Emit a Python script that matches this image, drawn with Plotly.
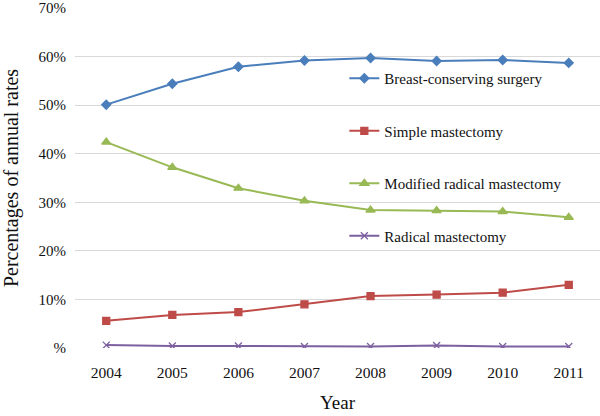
import plotly.graph_objects as go

years = ["2004", "2005", "2006", "2007", "2008", "2009", "2010", "2011"]
breast_conserving = [50.1, 54.4, 57.9, 59.2, 59.7, 59.1, 59.3, 58.7]
simple_mastectomy = [5.6, 6.8, 7.4, 9.0, 10.7, 11.0, 11.4, 13.0]
modified_radical = [42.4, 37.2, 32.9, 30.3, 28.4, 28.3, 28.1, 26.9]
radical_mastectomy = [0.6, 0.4, 0.4, 0.3, 0.3, 0.5, 0.3, 0.3]

y_ticks = [0, 10, 20, 30, 40, 50, 60, 70]
y_tick_text = ["%", "10%", "20%", "30%", "40%", "50%", "60%", "70%"]

series = [
    ("Breast-conserving surgery", breast_conserving, "#4a7ebb", "diamond", 7),
    ("Simple mastectomy", simple_mastectomy, "#be4b48", "square", 7),
    ("Modified radical mastectomy", modified_radical, "#98b954", "triangle-up", 8),
    ("Radical mastectomy", radical_mastectomy, "#7d60a0", "x-thin-open", 7),
]

serif = "Liberation Serif"
ink = "#111111"

fig = go.Figure()
for name, vals, color, symbol, size in series:
    fig.add_trace(go.Scatter(
        x=years, y=vals, name=name, mode="lines+markers",
        legendgroup=name,
        line=dict(color=color, width=2),
        marker=dict(symbol=symbol, size=size, color=color,
                    line=dict(color=color, width=1.3)),
    ))

fig.update_layout(
    width=600, height=416,
    margin=dict(l=75, r=0, t=8, b=68),
    plot_bgcolor="white", paper_bgcolor="white",
    font=dict(family=serif, size=16, color=ink),
    showlegend=True,
    legend=dict(x=0.513, y=0.841, xanchor="left", yanchor="top",
                font=dict(family=serif, size=15, color=ink),
                tracegroupgap=30, bgcolor="rgba(0,0,0,0)"),
)
fig.update_xaxes(
    type="category", showgrid=False, zeroline=False, showline=False,
    automargin=False, ticks="", ticklabelstandoff=13,
    tickfont=dict(family=serif, size=15.5, color=ink),
    title=dict(text="Year", font=dict(family=serif, size=19, color=ink), standoff=16),
)
fig.update_yaxes(
    range=[0, 70], tickvals=y_ticks, ticktext=y_tick_text,
    showgrid=True, gridcolor="#d9d9d9", gridwidth=1.2,
    zeroline=False, showline=False, automargin=False,
    ticks="", ticklabelstandoff=8, ticklabeloverflow="allow",
    tickfont=dict(family=serif, size=15, color=ink),
    title=dict(text="Percentages of annual rates",
               font=dict(family=serif, size=20, color=ink), standoff=18),
)

# page body has a default 8px margin; remove it so the figure sits at the corner
fig.write_html("out.html", config={"displayModeBar": False},
               post_script="document.body.style.margin='0';")
